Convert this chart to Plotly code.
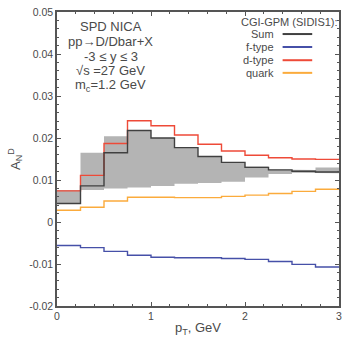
import numpy as np
import plotly.graph_objects as go

# bin edges (pT, GeV)
edges = [0, 0.25, 0.5, 0.75, 1.0, 1.25, 1.5, 1.75, 2.0, 2.25, 2.5, 2.75, 3.0]

sum_vals = [0.0044, 0.0086, 0.0165, 0.0218, 0.0200, 0.0177, 0.0156, 0.0142, 0.0130, 0.0124, 0.0121, 0.0119]
f_type = [-0.0056, -0.0061, -0.0070, -0.0079, -0.0084, -0.0085, -0.0085, -0.0087, -0.0089, -0.0094, -0.0101, -0.0107]
d_type = [0.0074, 0.0111, 0.0187, 0.0241, 0.0229, 0.0207, 0.0185, 0.0169, 0.0159, 0.0153, 0.0150, 0.0149]
quark = [0.0028, 0.0035, 0.0050, 0.0059, 0.0059, 0.0058, 0.0058, 0.0061, 0.0064, 0.0068, 0.0073, 0.0078]
band_hi = [0.0076, 0.0165, 0.0204, 0.0218, 0.0200, 0.0177, 0.0156, 0.0142, 0.0132, 0.0125, 0.0124, 0.0130]
band_lo = [0.0043, 0.0076, 0.0080, 0.0082, 0.0086, 0.0091, 0.0093, 0.0096, 0.0106, 0.0114, 0.0117, 0.0116]

y_tickvals = [-0.02, -0.01, 0, 0.01, 0.02, 0.03, 0.04, 0.05]
y_ticktext = ["-0.02", "-0.01", "0", "0.01", "0.02", "0.03", "0.04", "0.05"]
x_tickvals = [0, 1, 2, 3]
x_ticktext = ["0", "1", "2", "3"]

legend_title = "CGI-GPM (SIDIS1):"
legend_names = ["Sum", "f-type", "d-type", "quark"]
legend_colors = ["#404040", "#4650a8", "#ee4a38", "#fbab3c"]
info_lines = ["SPD NICA", "pp→D/Dbar+X", "-3 ≤ y ≤ 3", "√s =27 GeV", "m<sub>c</sub>=1.2 GeV"]

FONT = "Liberation Sans, Arial"
TXT = "#4a4a4a"

def step(vals):
    return list(edges), list(vals) + [vals[-1]]

fig = go.Figure()

# band polygon
e = np.array(edges)
xs_hi = np.repeat(e, 2)[1:-1]
ys_hi = np.repeat(np.array(band_hi), 2)
xs_lo = xs_hi[::-1]
ys_lo = np.repeat(np.array(band_lo), 2)[::-1]
fig.add_trace(go.Scatter(x=np.concatenate([xs_hi, xs_lo]), y=np.concatenate([ys_hi, ys_lo]),
                         fill="toself", fillcolor="#b4b4b4", line=dict(width=0),
                         mode="lines", showlegend=False, hoverinfo="skip"))

series = [quark, f_type, d_type, sum_vals]
colors = [legend_colors[3], legend_colors[1], legend_colors[2], legend_colors[0]]
for vals, c in zip(series, colors):
    x, y = step(vals)
    fig.add_trace(go.Scatter(x=x, y=y, mode="lines", line=dict(color=c, width=1.4, shape="hv"),
                             showlegend=False))

axis_common = dict(showline=True, linecolor="#555555", linewidth=1.5, mirror="ticks",
                   ticks="inside", ticklen=4, tickcolor="#555555", tickwidth=1,
                   showgrid=False, zeroline=False,
                   tickfont=dict(family=FONT, size=10.5, color=TXT))

fig.update_xaxes(range=[0, 3], tickvals=x_tickvals, ticktext=x_ticktext,
                 minor=dict(ticks="inside", dtick=0.2, tick0=0, ticklen=2, tickcolor="#555555"),
                 title=dict(text="p<sub>T</sub>, GeV", standoff=2,
                            font=dict(family=FONT, size=13, color=TXT)),
                 **axis_common)
fig.update_yaxes(range=[-0.02, 0.05], tickvals=y_tickvals, ticktext=y_ticktext,
                 minor=dict(ticks="inside", dtick=0.002, tick0=0, ticklen=2, tickcolor="#555555"),
                 title=dict(text="A<sub>N</sub><sup>D</sup>", standoff=6,
                            font=dict(family=FONT, size=13, color=TXT)),
                 **axis_common)

info_y = [0.952, 0.898, 0.848, 0.800, 0.750]
for line, yp in zip(info_lines, info_y):
    fig.add_annotation(xref="paper", yref="paper", x=0.19, y=yp, xanchor="center", yanchor="middle",
                       text=line, showarrow=False, align="center",
                       font=dict(family=FONT, size=13, color=TXT))

fig.add_annotation(xref="paper", yref="paper", x=1.003, y=0.966, xanchor="right", yanchor="middle",
                   text=legend_title, showarrow=False,
                   font=dict(family=FONT, size=11, color=TXT))

leg_y = [0.925, 0.881, 0.836, 0.793]
for name, c, yp in zip(legend_names, legend_colors, leg_y):
    fig.add_annotation(xref="paper", yref="paper", x=0.776, y=yp, xanchor="right", yanchor="middle",
                       text=name, showarrow=False,
                       font=dict(family=FONT, size=11, color=TXT))
    fig.add_shape(type="line", xref="paper", yref="paper", x0=0.80, x1=0.905, y0=yp, y1=yp,
                  line=dict(color=c, width=2))

fig.update_layout(width=346, height=337, margin=dict(l=57, r=4, t=12, b=30),
                  paper_bgcolor="white", plot_bgcolor="white", showlegend=False)

fig.write_html("out.html")
